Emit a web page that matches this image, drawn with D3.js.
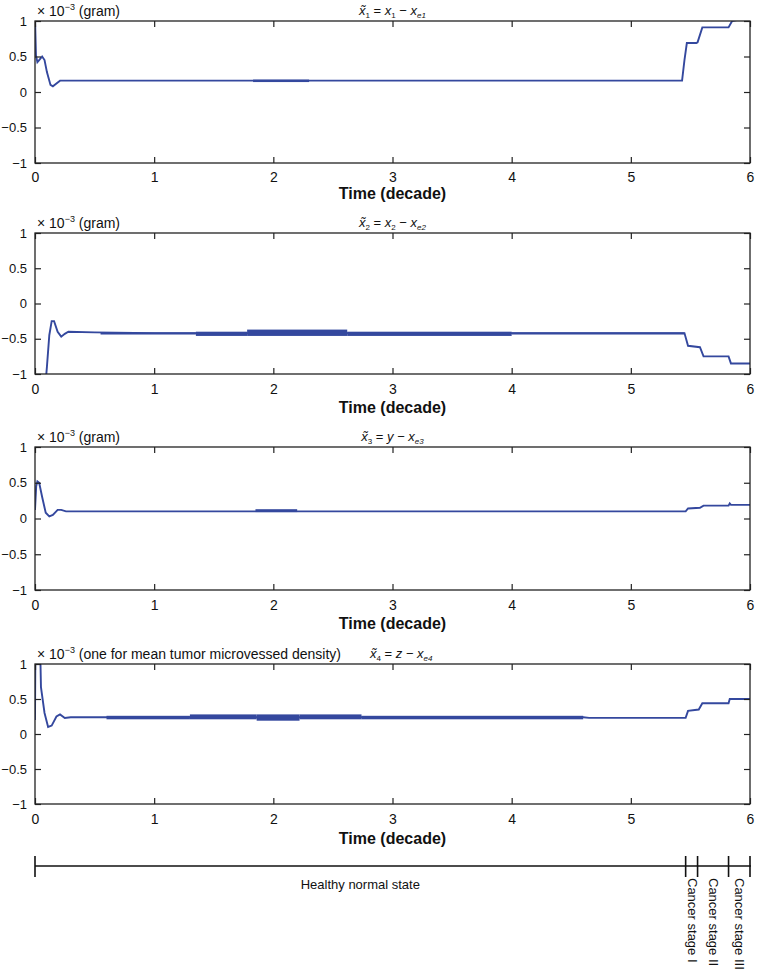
<!DOCTYPE html>
<html><head><meta charset="utf-8">
<script src="https://cdn.jsdelivr.net/npm/d3@7"></script>
<style>
body{margin:0;background:#fff;}
text{font-family:"Liberation Sans",Arial,sans-serif;fill:#111;}
</style></head>
<body><svg id="c" width="758" height="980"></svg>
<script>
// ---- data ----
const timeTicks = [0,1,2,3,4,5,6];
const valueTicks = [-1,-0.5,0,0.5,1];
const valueTickLabels = ["\u22121","\u22120.5","0","0.5","1"];

const x1Time = [0,0.008,0.02,0.035,0.06,0.08,0.1,0.13,0.15,0.18,0.21,0.3,1,2,3,4,5,5.43,5.45,5.47,5.55,5.56,5.6,5.82,5.85,6];
const x1Val  = [1.05,0.52,0.42,0.45,0.5,0.45,0.28,0.1,0.08,0.12,0.16,0.16,0.16,0.16,0.16,0.16,0.16,0.16,0.45,0.69,0.69,0.7,0.91,0.91,1.0,1.05];
const x1Bands = [[1.83,2.3,0.14,0.175]];

const x2Time = [0,0.09,0.1,0.12,0.14,0.16,0.19,0.22,0.25,0.28,0.5,1,2,3,4,5,5.45,5.48,5.58,5.61,5.82,5.84,6];
const x2Val  = [-1.1,-1.1,-0.9,-0.45,-0.25,-0.25,-0.4,-0.47,-0.43,-0.4,-0.41,-0.42,-0.42,-0.42,-0.42,-0.42,-0.42,-0.6,-0.62,-0.75,-0.75,-0.85,-0.85];
const x2Bands = [[0.55,1.35,-0.44,-0.41],[1.35,1.78,-0.46,-0.40],[1.78,2.62,-0.46,-0.37],[2.62,4.0,-0.46,-0.40],[4.0,5.45,-0.44,-0.41]];

const x3Time = [0,0.01,0.02,0.035,0.06,0.09,0.12,0.15,0.19,0.22,0.26,1,2,3,4,5,5.46,5.48,5.58,5.61,5.82,5.83,5.84,6];
const x3Val  = [0.12,0.45,0.52,0.5,0.3,0.08,0.03,0.05,0.12,0.12,0.1,0.1,0.1,0.1,0.1,0.1,0.1,0.14,0.15,0.18,0.18,0.21,0.19,0.19];
const x3Bands = [[1.85,2.2,0.09,0.13]];

const x4Time = [0,0.003,0.045,0.05,0.08,0.11,0.14,0.18,0.21,0.25,0.3,1,2,3,4,4.6,4.65,5,5.46,5.48,5.57,5.6,5.82,5.83,6];
const x4Val  = [0.2,1.1,1.1,0.67,0.3,0.1,0.12,0.25,0.28,0.23,0.24,0.24,0.24,0.24,0.24,0.24,0.23,0.23,0.23,0.33,0.35,0.44,0.44,0.5,0.5];
const x4Bands = [[0.6,1.3,0.21,0.26],[1.3,1.86,0.21,0.28],[1.86,2.22,0.19,0.28],[2.22,2.74,0.21,0.28],[2.74,4.6,0.21,0.26]];

const unitLabels = ["(gram)","(gram)","(gram)","(one for mean tumor microvessed density)"];
const titleVar = [["x","1","x","1","e1"],["x","2","x","2","e2"],["x","3","y","","e3"],["x","4","z","","e4"]];

const stageNames = ["Healthy normal state","Cancer stage I","Cancer stage II","Cancer stage III"];
const stageBounds = [0,5.46,5.56,5.82,6];

// ---- layout ----
const svg = d3.select("#c");
const left = 35, right = 750;
const panels = [
  {top:21, bottom:163, t:x1Time, v:x1Val, b:x1Bands, xl:36, tp:9},
  {top:233, bottom:374, t:x2Time, v:x2Val, b:x2Bands, xl:39, tp:10},
  {top:447, bottom:590, t:x3Time, v:x3Val, b:x3Bands, xl:39, tp:10},
  {top:664, bottom:804, t:x4Time, v:x4Val, b:x4Bands, xl:40, tp:10}
];
const x = d3.scaleLinear().domain([0,6]).range([left,right]);
const lineColor = "#34489e";
const tickLen = 6;

panels.forEach((p,i)=>{
  const y = d3.scaleLinear().domain([-1,1]).range([p.bottom,p.top]);
  const g = svg.append("g");
  const cid = "clip"+i;
  svg.append("clipPath").attr("id",cid).append("rect")
    .attr("x",left).attr("y",p.top).attr("width",right-left).attr("height",p.bottom-p.top);
  const plot = g.append("g").attr("clip-path",`url(#${cid})`);
  plot.selectAll("rect.band").data(p.b).enter().append("rect")
    .attr("x",d=>x(d[0])).attr("width",d=>x(d[1])-x(d[0]))
    .attr("y",d=>y(d[3])).attr("height",d=>y(d[2])-y(d[3]))
    .attr("fill",lineColor);
  const data = p.t.map((t,k)=>[t,p.v[k]]);
  plot.append("path").datum(data)
    .attr("d",d3.line().x(d=>x(d[0])).y(d=>y(d[1])))
    .attr("fill","none").attr("stroke",lineColor).attr("stroke-width",1.9);

  // axes
  const bottomAx = d3.axisBottom(x).tickValues(timeTicks).tickSizeInner(-tickLen).tickSizeOuter(0).tickPadding(p.tp).tickFormat(d3.format("d"));
  const gb = g.append("g").attr("transform",`translate(0,${p.bottom})`).call(bottomAx);
  const topAx = d3.axisTop(x).tickValues(timeTicks).tickSizeInner(-tickLen).tickSizeOuter(0).tickFormat("");
  const gt = g.append("g").attr("transform",`translate(0,${p.top})`).call(topAx);
  const leftAx = d3.axisLeft(y).tickValues(valueTicks).tickSizeInner(-tickLen).tickSizeOuter(0).tickPadding(8)
     .tickFormat((d,k)=>valueTickLabels[k]);
  const gl = g.append("g").attr("transform",`translate(${left},0)`).call(leftAx);
  const rightAx = d3.axisRight(y).tickValues(valueTicks).tickSizeInner(-tickLen).tickSizeOuter(0).tickFormat("");
  const gr = g.append("g").attr("transform",`translate(${right},0)`).call(rightAx);
  [gb,gt,gl,gr].forEach(a=>{
    a.select(".domain").remove();
    a.selectAll(".tick line").attr("stroke","#222").attr("stroke-width",1.2);
    a.selectAll("text").attr("font-size",14).attr("fill","#111").attr("font-family","'Liberation Sans',Arial,sans-serif");
  });
  gl.selectAll("text").attr("font-size",13);
  g.append("rect").attr("x",left).attr("y",p.top).attr("width",right-left).attr("height",p.bottom-p.top)
    .attr("fill","none").attr("stroke","#222").attr("stroke-width",1.3);

  // x label
  g.append("text").attr("x",(left+right)/2).attr("y",p.bottom+p.xl).attr("text-anchor","middle")
    .attr("font-size",16).attr("font-weight","bold").text("Time (decade)");

  // unit label
  const ul = g.append("text").attr("x",left+2).attr("y",p.top-5).attr("font-size",14);
  ul.append("tspan").text("\u00d7 10");
  ul.append("tspan").attr("dy",-6).attr("font-size",9).text("\u22123");
  ul.append("tspan").attr("dy",6).text(" "+unitLabels[i]);

  // title
  const tv = titleVar[i];
  const tt = g.append("text").attr("x", i===3 ? 370 : (left+right)/2).attr("y",p.top-6)
    .attr("text-anchor", i===3 ? "start" : "middle").attr("font-size",13).attr("font-style","italic");
  tt.append("tspan").text(tv[0]+"\u0303");
  tt.append("tspan").attr("dy",3).attr("font-size",8).attr("font-style","normal").text(tv[1]);
  tt.append("tspan").attr("dy",-3).attr("font-style","normal").text(" = ");
  tt.append("tspan").text(tv[2]);
  if(tv[3]) tt.append("tspan").attr("dy",3).attr("font-size",8).attr("font-style","normal").text(tv[3]);
  tt.append("tspan").attr("dy",tv[3]?-3:0).attr("font-style","normal").text(" \u2212 ");
  tt.append("tspan").text("x");
  tt.append("tspan").attr("dy",3).attr("font-size",8).attr("font-style","italic").text(tv[4]);
});

// ---- stage timeline ----
const ty = 866;
const tl = svg.append("g");
tl.append("line").attr("x1",x(0)).attr("x2",x(6)+1).attr("y1",ty).attr("y2",ty).attr("stroke","#111").attr("stroke-width",1.4);
tl.selectAll("line.tk").data(stageBounds).enter().append("line")
  .attr("x1",d=>x(d)).attr("x2",d=>x(d)).attr("y1",ty-10).attr("y2",ty+11)
  .attr("stroke","#111").attr("stroke-width",1.6);
tl.append("text").attr("x",(x(stageBounds[0])+x(stageBounds[1]))/2).attr("y",ty+23)
  .attr("text-anchor","middle").attr("font-size",13).text(stageNames[0]);
stageNames.slice(1).forEach((s,k)=>{
  const cx = (x(stageBounds[k+1])+x(stageBounds[k+2]))/2;
  tl.append("text").attr("transform",`translate(${cx-4},${ty+12}) rotate(90)`)
    .attr("font-size",13).text(s);
});
</script></body></html>
